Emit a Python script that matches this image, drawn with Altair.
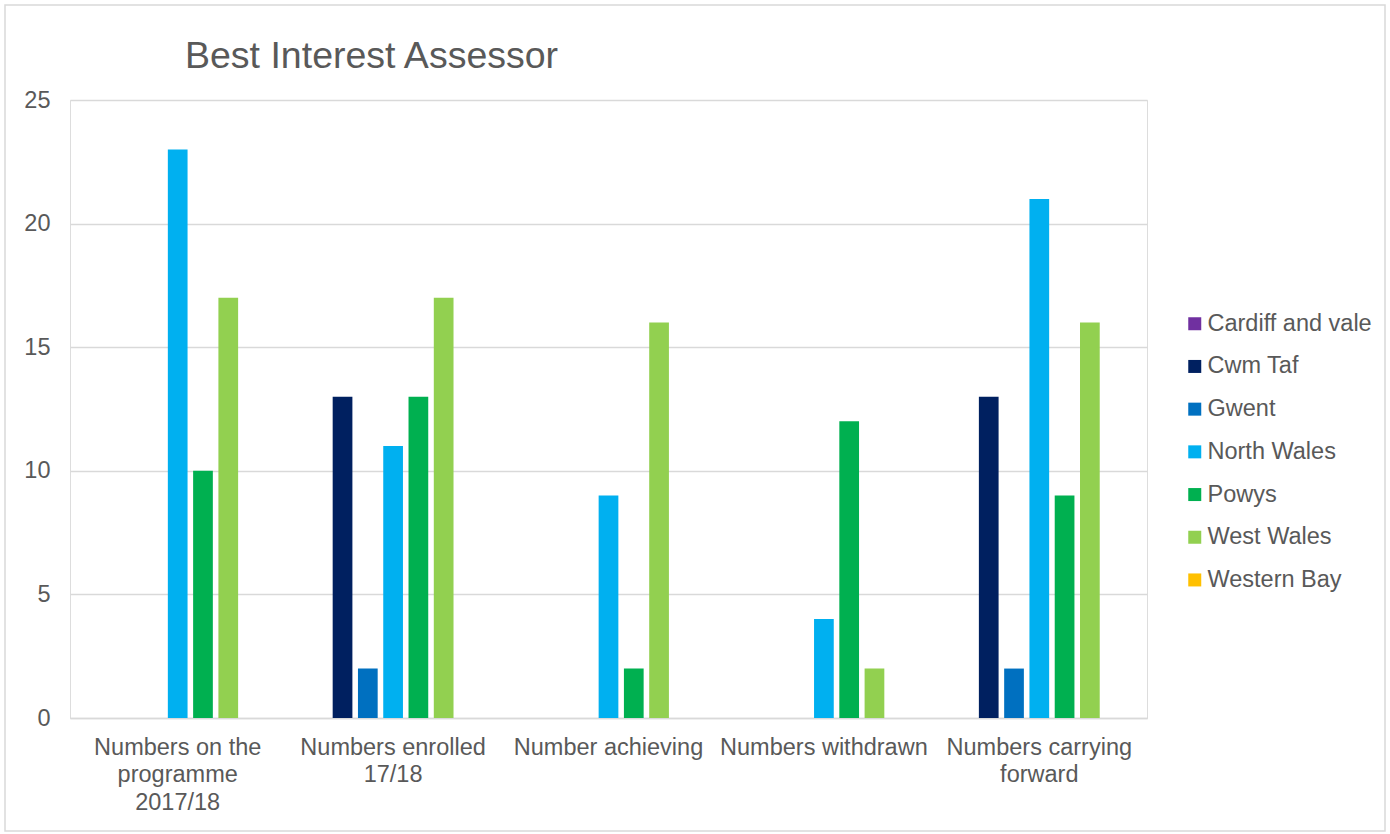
import altair as alt
import pandas as pd

# Programme stages (x categories) and how each label wraps
stages = [
    "Numbers on the programme 2017/18",
    "Numbers enrolled 17/18",
    "Number achieving",
    "Numbers withdrawn",
    "Numbers carrying forward",
]
stage_lines = [
    ["Numbers on the", "programme", "2017/18"],
    ["Numbers enrolled", "17/18"],
    ["Number achieving"],
    ["Numbers withdrawn"],
    ["Numbers carrying", "forward"],
]

# Regions (series) and their colours
regions = ["Cardiff and vale", "Cwm Taf", "Gwent", "North Wales", "Powys", "West Wales", "Western Bay"]
region_colors = ["#7030A0", "#002060", "#0070C0", "#00B0F0", "#00B050", "#92D050", "#FFC000"]

# Values per region, one per stage
cardiff_and_vale = [0, 0, 0, 0, 0]
cwm_taf = [0, 13, 0, 0, 13]
gwent = [0, 2, 0, 0, 2]
north_wales = [23, 11, 9, 4, 21]
powys = [10, 13, 2, 12, 9]
west_wales = [17, 17, 16, 2, 16]
western_bay = [0, 0, 0, 0, 0]

chart_title = "Best Interest Assessor"

series = [cardiff_and_vale, cwm_taf, gwent, north_wales, powys, west_wales, western_bay]
rows = []
for region, values in zip(regions, series):
    for stage, v in zip(stages, values):
        rows.append({"Stage": stage, "Region": region, "Value": v})
df = pd.DataFrame(rows)

# Axis label expression that breaks each stage name onto several lines
label_map = "{" + ", ".join(
    "'" + s + "': [" + ", ".join("'" + l + "'" for l in lines) + "]"
    for s, lines in zip(stages, stage_lines)
) + "}"
label_expr = label_map + "[datum.label]"

FONT = "Liberation Sans"
GREY = "#595959"
W, H = 1077, 618

bars = alt.Chart(df).mark_bar().encode(
    x=alt.X(
        "Stage:N",
        sort=stages,
        scale=alt.Scale(paddingInner=0, paddingOuter=0),
        axis=alt.Axis(
            title=None,
            labelAngle=0,
            labelExpr=label_expr,
            labelFont=FONT,
            labelFontSize=23.5,
            labelColor=GREY,
            labelLineHeight=27.5,
            labelPadding=17,
            ticks=False,
            domainColor="#d9d9d9",
            domainWidth=1.5,
            labelLimit=300,
        ),
    ),
    xOffset=alt.XOffset(
        "Region:N",
        sort=regions,
        scale=alt.Scale(paddingInner=0.22, paddingOuter=0.87),
    ),
    y=alt.Y(
        "Value:Q",
        scale=alt.Scale(domain=[0, 25], nice=False),
        axis=alt.Axis(
            title=None,
            values=[0, 5, 10, 15, 20, 25],
            labelFont=FONT,
            labelFontSize=23.5,
            labelColor=GREY,
            labelPadding=20,
            ticks=False,
            domain=False,
            gridColor="#d9d9d9",
            gridWidth=1.3,
        ),
    ),
    color=alt.Color(
        "Region:N",
        sort=regions,
        scale=alt.Scale(domain=regions, range=region_colors),
        legend=alt.Legend(
            title=None,
            orient="none",
            legendX=1113,
            legendY=212,
            symbolType="square",
            symbolSize=169,
            symbolStrokeWidth=0,
            labelFont=FONT,
            labelFontSize=23.5,
            labelColor=GREY,
            labelOffset=1,
            labelLimit=300,
            rowPadding=17.7,
            padding=0,
        ),
    ),
)

# Chart title drawn as text above the plot area
title = alt.Chart(pd.DataFrame({"t": [chart_title]})).mark_text(
    align="left", baseline="alphabetic", font=FONT, fontSize=37.5, color=GREY
).encode(text="t:N", x=alt.value(115), y=alt.value(-32))

# Light frame around the whole chart
frame = alt.Chart(pd.DataFrame({"f": [0]})).mark_rect(
    fill=None, stroke="#d9d9d9", strokeWidth=1.5
).encode(
    x=alt.value(-65), x2=alt.value(1315), y=alt.value(-95), y2=alt.value(731)
)

chart = alt.layer(bars, title, frame).properties(
    width=W,
    height=H,
    padding={"left": 70, "top": 100, "right": 243, "bottom": 116},
    autosize=alt.AutoSizeParams(type="none"),
).configure_view(strokeWidth=0, stroke="transparent").configure(background="white")

chart.save("out.html", embed_options={"renderer": "svg", "actions": False})
